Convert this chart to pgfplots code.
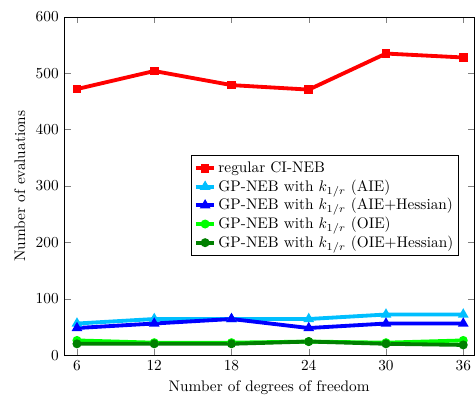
\documentclass[border=0pt]{standalone}
\usepackage{pgfplots}
\pgfplotsset{compat=1.18}
\definecolor{lblue}{RGB}{0,191,255}
\definecolor{lgreen}{RGB}{0,255,0}
\definecolor{dgreen}{RGB}{0,128,0}
\begin{document}
\begin{tikzpicture}
\begin{axis}[
  scale only axis,
  width=268pt, height=221pt,
  xmin=5, xmax=36.85, ymin=0, ymax=600,
  xtick={6,12,18,24,30,36},
  ytick={0,100,200,300,400,500,600},
  xlabel={Number of degrees of freedom},
  ylabel={Number of evaluations},
  every axis plot/.append style={line width=2.5pt, mark size=1.6pt},
  legend image code/.code={\draw[mark repeat=2,mark phase=2,#1] plot coordinates {(0cm,0cm) (0.21cm,0cm) (0.42cm,0cm)};},
  legend style={at={(0.961,0.293)}, anchor=south east, cells={anchor=west}, font=\normalsize,
    row sep=-0.8pt, inner xsep=1.5pt, nodes={inner xsep=1.5pt}},
  legend cell align=left,
]
\addplot[color=red, mark=square*] coordinates {(6,472) (12,504) (18,479) (24,471) (30,535) (36,528)};
\addlegendentry{regular CI-NEB}
\addplot[color=lblue, mark=triangle*] coordinates {(6,56) (12,64) (18,64) (24,64) (30,72) (36,72)};
\addlegendentry{GP-NEB with $k_{1/r}$ (AIE)}
\addplot[color=blue, mark=triangle*] coordinates {(6,48) (12,56) (18,64) (24,48) (30,56) (36,56)};
\addlegendentry{GP-NEB with $k_{1/r}$ (AIE+Hessian)}
\addplot[color=lgreen, mark=*] coordinates {(6,26) (12,22) (18,22) (24,24) (30,22) (36,26)};
\addlegendentry{GP-NEB with $k_{1/r}$ (OIE)}
\addplot[color=dgreen, mark=*] coordinates {(6,20) (12,20) (18,20) (24,24) (30,20) (36,18)};
\addlegendentry{GP-NEB with $k_{1/r}$ (OIE+Hessian)}
\end{axis}
\path ([xshift=-6pt,yshift=4.5pt]current axis.outer north west) coordinate (pad);
\end{tikzpicture}
\end{document}
